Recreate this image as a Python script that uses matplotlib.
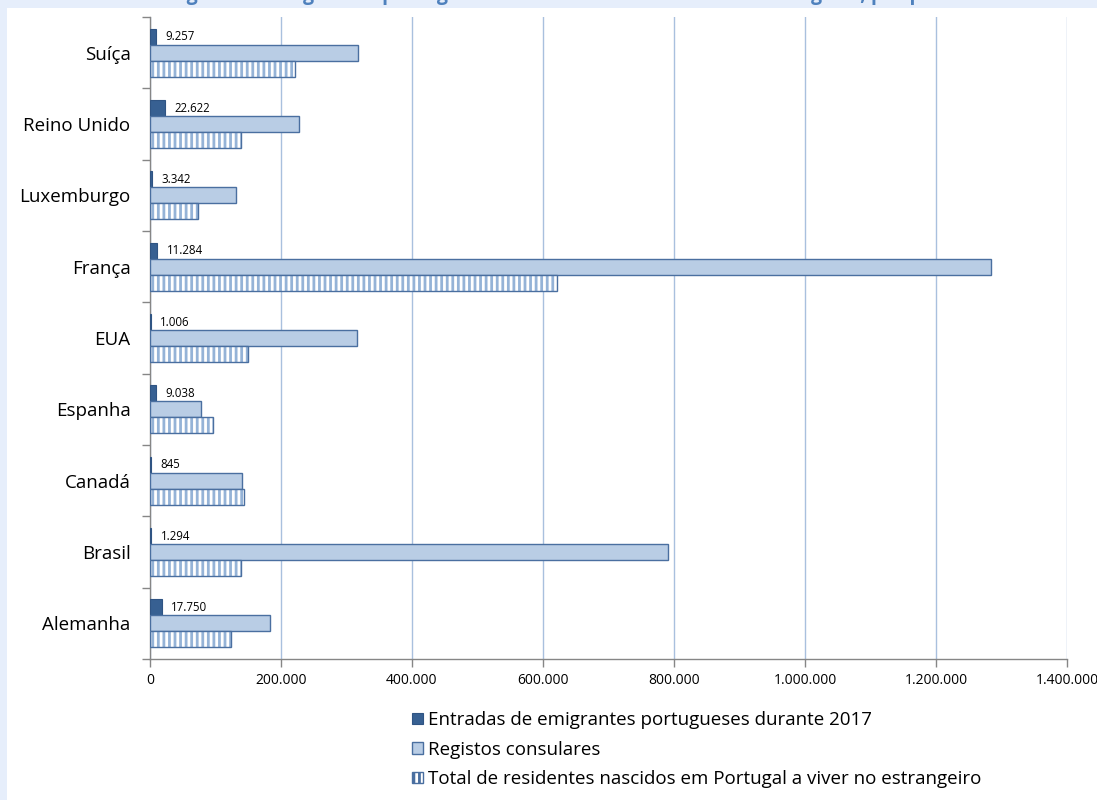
import matplotlib
matplotlib.use('Agg')
import matplotlib.pyplot as plt
import matplotlib.patches as patches
import matplotlib.ticker as ticker
import numpy as np

# Dados (de baixo para cima no eixo)
paises = ['Alemanha', 'Brasil', 'Canadá', 'Espanha', 'EUA', 'França', 'Luxemburgo', 'Reino Unido', 'Suíça']
entradas_2017 = [17750, 1294, 845, 9038, 1006, 11284, 3342, 22622, 9257]
registos_consulares = [183700, 791000, 141000, 78000, 316000, 1284000, 131000, 228000, 317500]
residentes_estrangeiro = [123000, 138500, 143500, 96000, 150000, 622000, 72800, 139000, 221000]

series_labels = ['Entradas de emigrantes portugueses durante 2017',
                 'Registos consulares',
                 'Total de residentes nascidos em Portugal a viver no estrangeiro']
x_ticks = [0, 200000, 400000, 600000, 800000, 1000000, 1200000, 1400000]
titulo = 'Figura 8 – Emigrantes portugueses em 2017 e residentes no estrangeiro, por país'

dark = '#376092'
light = '#B9CDE5'
stripe = '#95B3D7'
edge = '#4A6FA0'
grid_c = '#A9C0DE'
axis_c = '#868686'
bg = '#E6EEFB'

plt.rcParams['font.family'] = ['Open Sans', 'DejaVu Sans']
plt.rcParams['hatch.linewidth'] = 2.0


def fmt_pt(v):
    return '{:,}'.format(int(v)).replace(',', '.')


fig = plt.figure(figsize=(10.97, 8.0), dpi=100, facecolor=bg)
fig.patches.append(patches.Rectangle((7 / 1097, 0), 1, 1 - 8 / 800, transform=fig.transFigure,
                                     facecolor='white', edgecolor='none', zorder=-10))
fig.text(0.51, 1.0, titulo, ha='center', va='baseline', fontsize=14, fontweight='bold', color='#4F81BD')

ax = fig.add_axes([150 / 1097, 1 - 659 / 800, 917 / 1097, 642 / 800])
ax.set_facecolor('none')

y = np.arange(len(paises))
w = 0.224

ax.barh(y + w, entradas_2017, height=w, color=dark, edgecolor='#2F5483', linewidth=0.8, zorder=3)
ax.barh(y, registos_consulares, height=w, color=light, edgecolor=edge, linewidth=1.0, zorder=3)
ax.barh(y - w, residentes_estrangeiro, height=w, color='white', edgecolor=stripe, hatch='|||',
        linewidth=0, zorder=3)
ax.barh(y - w, residentes_estrangeiro, height=w, color='none', edgecolor=edge, linewidth=1.0, zorder=4)

for yi, v in zip(y, entradas_2017):
    ax.annotate(fmt_pt(v), (v, yi + w), xytext=(7, 0), textcoords='offset points',
                va='center', ha='left', fontsize=8.3, color='black', zorder=5)

ax.set_xlim(0, 1400000)
ax.set_ylim(-0.5, len(paises) - 0.5)
ax.set_xticks(x_ticks)
ax.set_xticklabels([fmt_pt(v) for v in x_ticks], fontsize=10)
ax.xaxis.grid(True, color=grid_c, linewidth=1.0, zorder=0)
ax.set_axisbelow(True)

ax.yaxis.set_major_locator(ticker.FixedLocator(np.arange(-0.5, len(paises), 1.0)))
ax.yaxis.set_major_formatter(ticker.NullFormatter())
ax.yaxis.set_minor_locator(ticker.FixedLocator(y))
ax.yaxis.set_minor_formatter(ticker.FixedFormatter(paises))
ax.tick_params(axis='y', which='major', length=6, color=axis_c, width=1)
ax.tick_params(axis='y', which='minor', length=0, pad=14, labelsize=13.5)
ax.tick_params(axis='x', length=6, color=axis_c, width=1, pad=4)

for s in ['top', 'right']:
    ax.spines[s].set_visible(False)
for s in ['left', 'bottom']:
    ax.spines[s].set_color(axis_c)
    ax.spines[s].set_linewidth(1.0)

handles = [patches.Patch(facecolor=dark, edgecolor='#2F5483', linewidth=0.8),
           patches.Patch(facecolor=light, edgecolor=edge, linewidth=1.0),
           patches.Patch(facecolor='white', edgecolor=edge, hatch='|||', linewidth=1.0)]
leg = fig.legend(handles, series_labels, loc='upper left', bbox_to_anchor=(403 / 1097, 1 - 702 / 800),
                 frameon=False, fontsize=13.5, handlelength=0.55, handleheight=0.55,
                 handletextpad=0.3, labelspacing=0.6, borderpad=0)

fig.savefig('out.png', dpi=100, facecolor=bg)
